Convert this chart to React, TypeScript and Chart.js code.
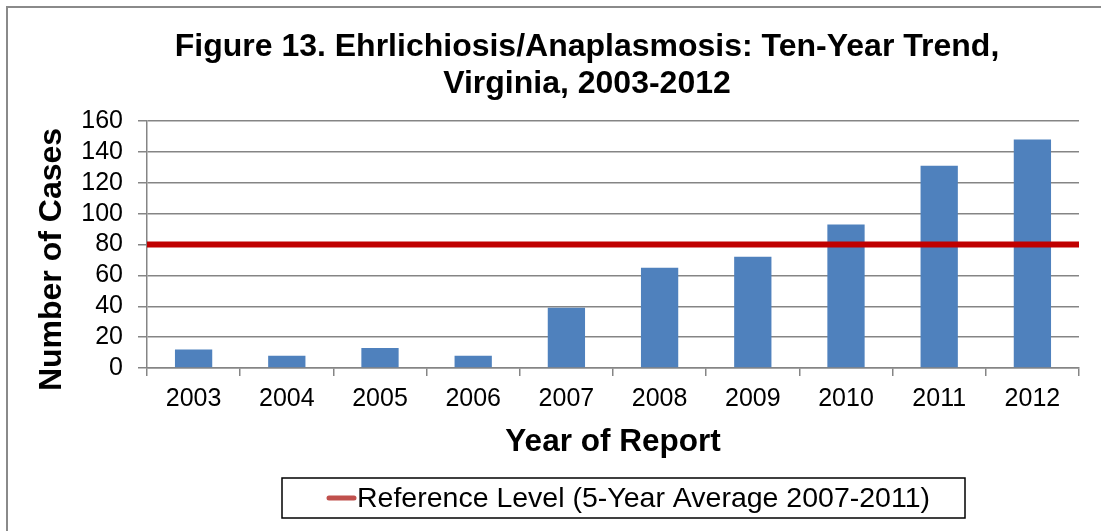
import React, { useEffect, useRef } from 'react';
import { Chart, registerables } from 'chart.js';

Chart.register(...registerables);

// ---- data ----
const years = ['2003', '2004', '2005', '2006', '2007', '2008', '2009', '2010', '2011', '2012'];
const cases = [12, 8, 13, 8, 39, 65, 72, 93, 131, 148];
const referenceLevel = 80;
const yMin = 0;
const yMax = 160;
const yStep = 20;

const titleLines = ['Figure 13. Ehrlichiosis/Anaplasmosis: Ten-Year Trend,', 'Virginia, 2003-2012'];
const yAxisTitle = 'Number of Cases';
const xAxisTitle = 'Year of Report';
const legendLabel = 'Reference Level (5-Year Average 2007-2011)';

const FONT = "'Liberation Sans', Arial, Helvetica, sans-serif";
const W = 1101;
const H = 531;
const GRID = '#858585';

const decorPlugin = {
  id: 'decor',
  beforeDraw(chart: any) {
    const ctx = chart.ctx;
    ctx.save();
    ctx.fillStyle = '#ffffff';
    ctx.fillRect(0, 0, chart.width, chart.height);
    ctx.strokeStyle = '#8a8a8a';
    ctx.lineWidth = 2;
    ctx.beginPath();
    ctx.moveTo(7, chart.height);
    ctx.lineTo(7, 7);
    ctx.lineTo(chart.width, 7);
    ctx.stroke();
    ctx.restore();
  },
  afterDraw(chart: any) {
    const ctx = chart.ctx;
    const area = chart.chartArea;
    ctx.save();
    ctx.fillStyle = '#000000';
    // chart title
    ctx.font = `bold 32px ${FONT}`;
    ctx.textAlign = 'center';
    ctx.textBaseline = 'alphabetic';
    ctx.fillText(titleLines[0], 587, 56);
    ctx.fillText(titleLines[1], 587, 93);
    // y axis title
    ctx.save();
    ctx.translate(52.5, (area.top + area.bottom) / 2 + 15);
    ctx.rotate(-Math.PI / 2);
    ctx.font = `bold 32px ${FONT}`;
    ctx.textBaseline = 'middle';
    ctx.textAlign = 'center';
    ctx.fillText(yAxisTitle, 0, 0);
    ctx.restore();
    // legend box
    const lx = 282, ly = 478, lw = 683, lh = 40;
    ctx.strokeStyle = '#000000';
    ctx.lineWidth = 1.5;
    ctx.strokeRect(lx, ly, lw, lh);
    const cy = ly + lh / 2;
    ctx.strokeStyle = '#C0504D';
    ctx.lineWidth = 5;
    ctx.lineCap = 'round';
    ctx.beginPath();
    ctx.moveTo(329, cy);
    ctx.lineTo(354, cy);
    ctx.stroke();
    ctx.font = `28.5px ${FONT}`;
    ctx.textAlign = 'left';
    ctx.textBaseline = 'middle';
    const label = chart.data.datasets[1]?.label ?? legendLabel;
    ctx.fillText(label, 357, cy + 1);
    ctx.restore();
  },
};

export default function App() {
  const canvasRef = useRef<HTMLCanvasElement | null>(null);

  useEffect(() => {
    if (!canvasRef.current) return;
    const chart = new Chart(canvasRef.current, {
      type: 'bar',
      data: {
        labels: years,
        datasets: [
          {
            type: 'bar',
            label: 'Cases',
            data: cases,
            backgroundColor: '#4F81BD',
            borderWidth: 0,
            grouped: false,
            categoryPercentage: 1,
            barPercentage: 0.4,
            order: 2,
          } as any,
          {
            type: 'line',
            label: legendLabel,
            xAxisID: 'x2',
            data: [
              { x: 0, y: referenceLevel },
              { x: 1, y: referenceLevel },
            ],
            borderColor: '#C00000',
            borderWidth: 6,
            pointRadius: 0,
            fill: false,
            tension: 0,
            order: 1,
          } as any,
        ],
      },
      options: {
        animation: false,
        responsive: false,
        events: [],
        layout: { padding: { top: 121, left: 0, right: 22, bottom: 70 } },
        plugins: {
          legend: { display: false },
          title: { display: false },
          tooltip: { enabled: false },
        },
        scales: {
          x: {
            type: 'category',
            afterFit: (scale: any) => {
              scale.height = 93;
            },
            grid: {
              display: true,
              offset: true,
              drawOnChartArea: false,
              drawTicks: true,
              tickLength: 8,
              color: GRID,
              lineWidth: 1.5,
            },
            border: { display: true, color: GRID, width: 1.5 },
            ticks: {
              color: '#000000',
              font: { family: FONT, size: 25 },
              padding: 8,
              maxRotation: 0,
              autoSkip: false,
            },
            title: {
              display: true,
              text: xAxisTitle,
              color: '#000000',
              font: { family: FONT, size: 31.5, weight: 'bold' },
              padding: 0,
            },
          },
          x2: {
            type: 'linear',
            display: false,
            offset: false,
            grid: { offset: false },
            min: 0,
            max: 1,
          },
          y: {
            type: 'linear',
            min: yMin,
            max: yMax,
            afterFit: (scale: any) => {
              scale.width = 147;
            },
            grid: {
              color: GRID,
              lineWidth: 1.5,
              tickLength: 9,
              drawTicks: true,
            },
            border: { display: true, color: GRID, width: 1.5 },
            ticks: {
              stepSize: yStep,
              autoSkip: false,
              color: '#000000',
              font: { family: FONT, size: 25 },
              padding: 15,
            },
            title: { display: false },
          },
        },
      },
      plugins: [decorPlugin],
    } as any);
    return () => chart.destroy();
  }, []);

  return (
    <div style={{ position: 'fixed', left: 0, top: 0, width: W, height: H, background: '#fff' }}>
      <canvas ref={canvasRef} width={W} height={H} style={{ width: W, height: H, display: 'block' }} />
    </div>
  );
}
